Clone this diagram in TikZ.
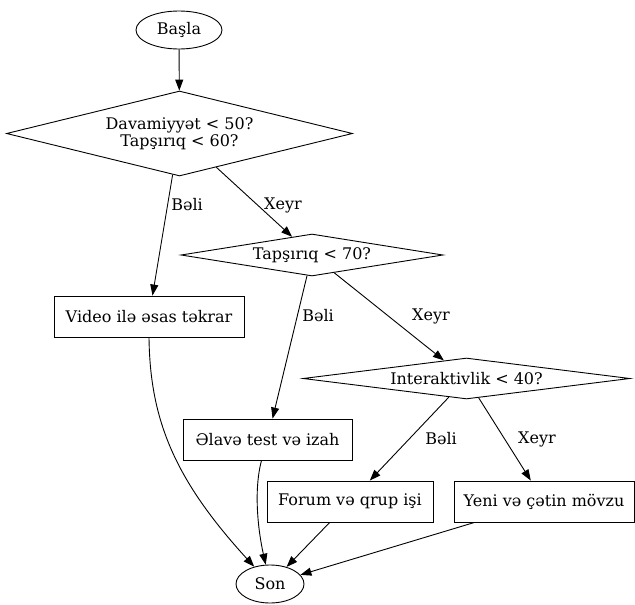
\documentclass[tikz,border=0pt]{standalone}
\usepackage{fontspec}
\setmainfont{DejaVu Serif}
\usetikzlibrary{shapes.geometric,arrows.meta,calc}
\begin{document}
\begin{tikzpicture}[x=1pt,y=-1pt,
  every node/.style={font=\fontsize{16}{17.5}\selectfont},
  term/.style={ellipse,draw,line width=0.9pt,inner sep=0},
  dec/.style={diamond,draw,line width=0.9pt,inner sep=0,align=center},
  act/.style={rectangle,draw,line width=0.9pt,minimum height=41pt,inner sep=0},
  lbl/.style={inner sep=0},
  arr/.style={draw,line width=0.9pt,-{Triangle[length=11pt,width=8pt]}}
]
\useasboundingbox (0,0) rectangle (635,605);
\node[term,minimum width=86pt,minimum height=38pt] (start) at (179,30) {Başla};
\node[dec,aspect=4.07,minimum width=346pt,minimum height=85pt] (d1) at (179.5,133.5) {Davamiyyət < 50?\\Tapşırıq < 60?};
\node[dec,aspect=6.2,minimum width=262pt,minimum height=42pt] (d2) at (312,255) {Tapşırıq < 70?};
\node[dec,aspect=8,minimum width=327pt,minimum height=41pt] (d3) at (466.5,378.5) {Interaktivlik < 40?};
\node[act,minimum width=190pt] (video) at (149,316.5) {Video ilə əsas təkrar};
\node[act,minimum width=169pt] (elave) at (267.5,439.5) {Əlavə test və izah};
\node[act,minimum width=166pt] (forum) at (350,501.5) {Forum və qrup işi};
\node[act,minimum width=180pt] (yeni) at (544,501.5) {Yeni və çətin mövzu};
\node[term,minimum width=68pt,minimum height=38pt] (son) at (270,584) {Son};

\node[lbl] (l1) at (187,205) {Bəli};
\node[lbl] (l2) at (283,205) {Xeyr};
\node[lbl] (l3) at (318,316) {Bəli};
\node[lbl] (l4) at (431,316) {Xeyr};
\node[lbl] (l5) at (441,439) {Bəli};
\node[lbl] (l6) at (537,439) {Xeyr};

\draw[arr] (start) -- (d1);
\draw[arr] (d1) -- (video);
\draw[arr] (d1) -- (d2);
\draw[arr] (d2) -- (elave);
\draw[arr] (d2) -- (d3);
\draw[arr] (d3) -- (forum);
\draw[arr] (d3) -- (yeni);
\draw[arr] (video.south) .. controls ($(video.south)+(1,83)$) and ($(son)+(-95,-104)$) .. (son);
\draw[arr] ([xshift=-6pt]elave.south) .. controls ($(elave.south)+(-14,30)$) and ($(son)+(-12,-54)$) .. (son);
\draw[arr] (forum) -- (son);
\draw[arr] (yeni) -- (son);
\end{tikzpicture}
\end{document}
